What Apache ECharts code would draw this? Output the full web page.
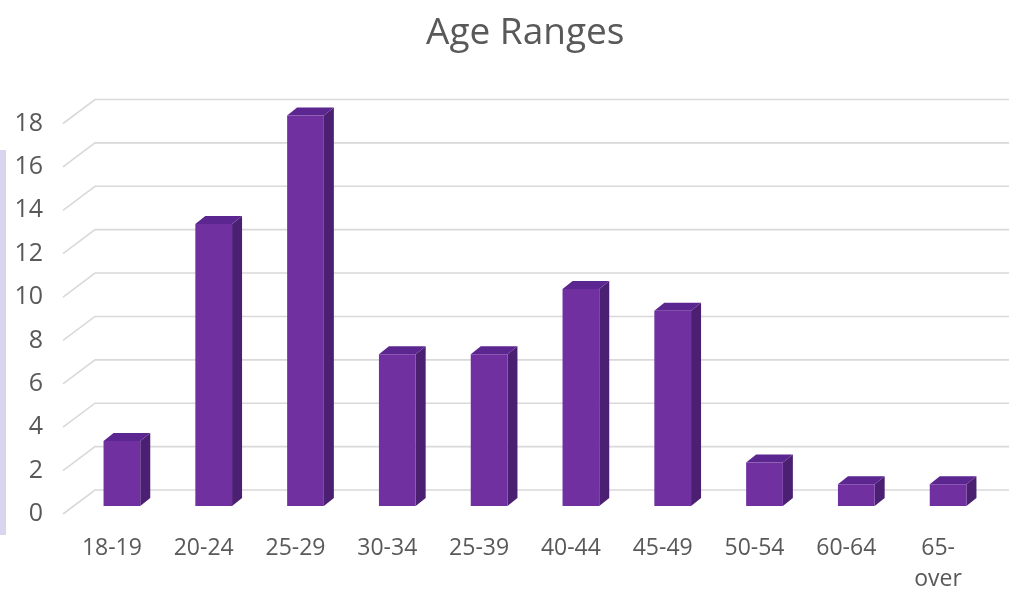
<!DOCTYPE html>
<html>
<head>
<meta charset="utf-8">
<script src="https://cdn.jsdelivr.net/npm/echarts@6/dist/echarts.min.js"></script>
<style>
  html, body { margin: 0; padding: 0; background: #ffffff; }
  #chart { width: 1009px; height: 595px; }
</style>
</head>
<body>
<div id="chart"></div>
<script>
// Age bands and respondent counts
const categories = ['18-19', '20-24', '25-29', '30-34', '25-39', '40-44', '45-49', '50-54', '60-64', '65-\nover'];
const counts = [3, 13, 18, 7, 7, 10, 9, 2, 1, 1];
const yTicks = [0, 2, 4, 6, 8, 10, 12, 14, 16, 18];

// Perspective offsets for the pseudo-3D look
const WALL_DX = 32, WALL_DY = 24;   // floor front edge -> back wall
const BAR_DX = 10, BAR_DY = 8;      // bar front face depth position
const BAR_DEPTH_X = 10, BAR_DEPTH_Y = 8;

const chart = echarts.init(document.getElementById('chart'), null, { renderer: 'canvas' });

const fontFamily = '"Open Sans", "Noto Sans", sans-serif';

chart.setOption({
  animation: false,
  backgroundColor: '#ffffff',
  title: {
    text: 'Age Ranges',
    left: 421,
    top: 10,
    textStyle: { fontFamily, fontSize: 37, fontWeight: 'normal', color: '#595959' }
  },
  graphic: [{
    type: 'rect',
    shape: { x: 0, y: 150, width: 6, height: 385 },
    style: { fill: '#d9d5ef' },
    silent: true
  }],
  grid: { left: 66, right: 25, top: 123.5, bottom: 80 },
  xAxis: {
    type: 'category',
    data: categories,
    axisLine: { show: false },
    axisTick: { show: false },
    splitLine: { show: false },
    axisLabel: {
      color: '#595959',
      fontFamily,
      fontSize: 23,
      lineHeight: 31,
      margin: 19,
      interval: 0
    }
  },
  yAxis: {
    type: 'value',
    min: 0,
    max: 18,
    interval: 2,
    axisLine: { show: false },
    axisTick: { show: false },
    splitLine: { show: false },
    axisLabel: { color: '#595959', fontFamily, fontSize: 25, margin: 23 }
  },
  series: [
    {
      // back wall gridlines with their slanted floor edges
      type: 'custom',
      z: 1,
      silent: true,
      data: yTicks.map(v => [0, v]),
      renderItem(params, api) {
        const cs = params.coordSys;
        const y = api.coord([0, api.value(1)])[1];
        const x0 = cs.x - 3;
        return {
          type: 'polyline',
          shape: {
            points: [
              [x0, y],
              [x0 + WALL_DX, y - WALL_DY],
              [cs.x + cs.width + WALL_DX + 20, y - WALL_DY]
            ]
          },
          style: { stroke: '#d9d9d9', lineWidth: 1.6, fill: null }
        };
      }
    },
    {
      // 3D column bars
      type: 'custom',
      z: 3,
      data: counts.map((v, i) => [i, v]),
      renderItem(params, api) {
        const i = api.value(0), v = api.value(1);
        const base = api.coord([i, 0]);
        const top = api.coord([i, v]);
        const band = api.size([1, 0])[0];
        const w = band * 0.4;
        const cx = base[0] + BAR_DX;
        const x0 = cx - w / 2, x1 = cx + w / 2;
        const yb = base[1] - BAR_DY, yt = top[1] - BAR_DY;
        return {
          type: 'group',
          children: [
            {
              type: 'polygon',
              shape: { points: [[x1, yb], [x1, yt], [x1 + BAR_DEPTH_X, yt - BAR_DEPTH_Y], [x1 + BAR_DEPTH_X, yb - BAR_DEPTH_Y]] },
              style: { fill: '#4b1f72' }
            },
            {
              type: 'polygon',
              shape: { points: [[x0, yt], [x1, yt], [x1 + BAR_DEPTH_X, yt - BAR_DEPTH_Y], [x0 + BAR_DEPTH_X, yt - BAR_DEPTH_Y]] },
              style: { fill: '#5c2690' }
            },
            {
              type: 'rect',
              shape: { x: x0, y: yt, width: w, height: yb - yt },
              style: { fill: '#7030a0' }
            }
          ]
        };
      }
    }
  ]
});
</script>
</body>
</html>
